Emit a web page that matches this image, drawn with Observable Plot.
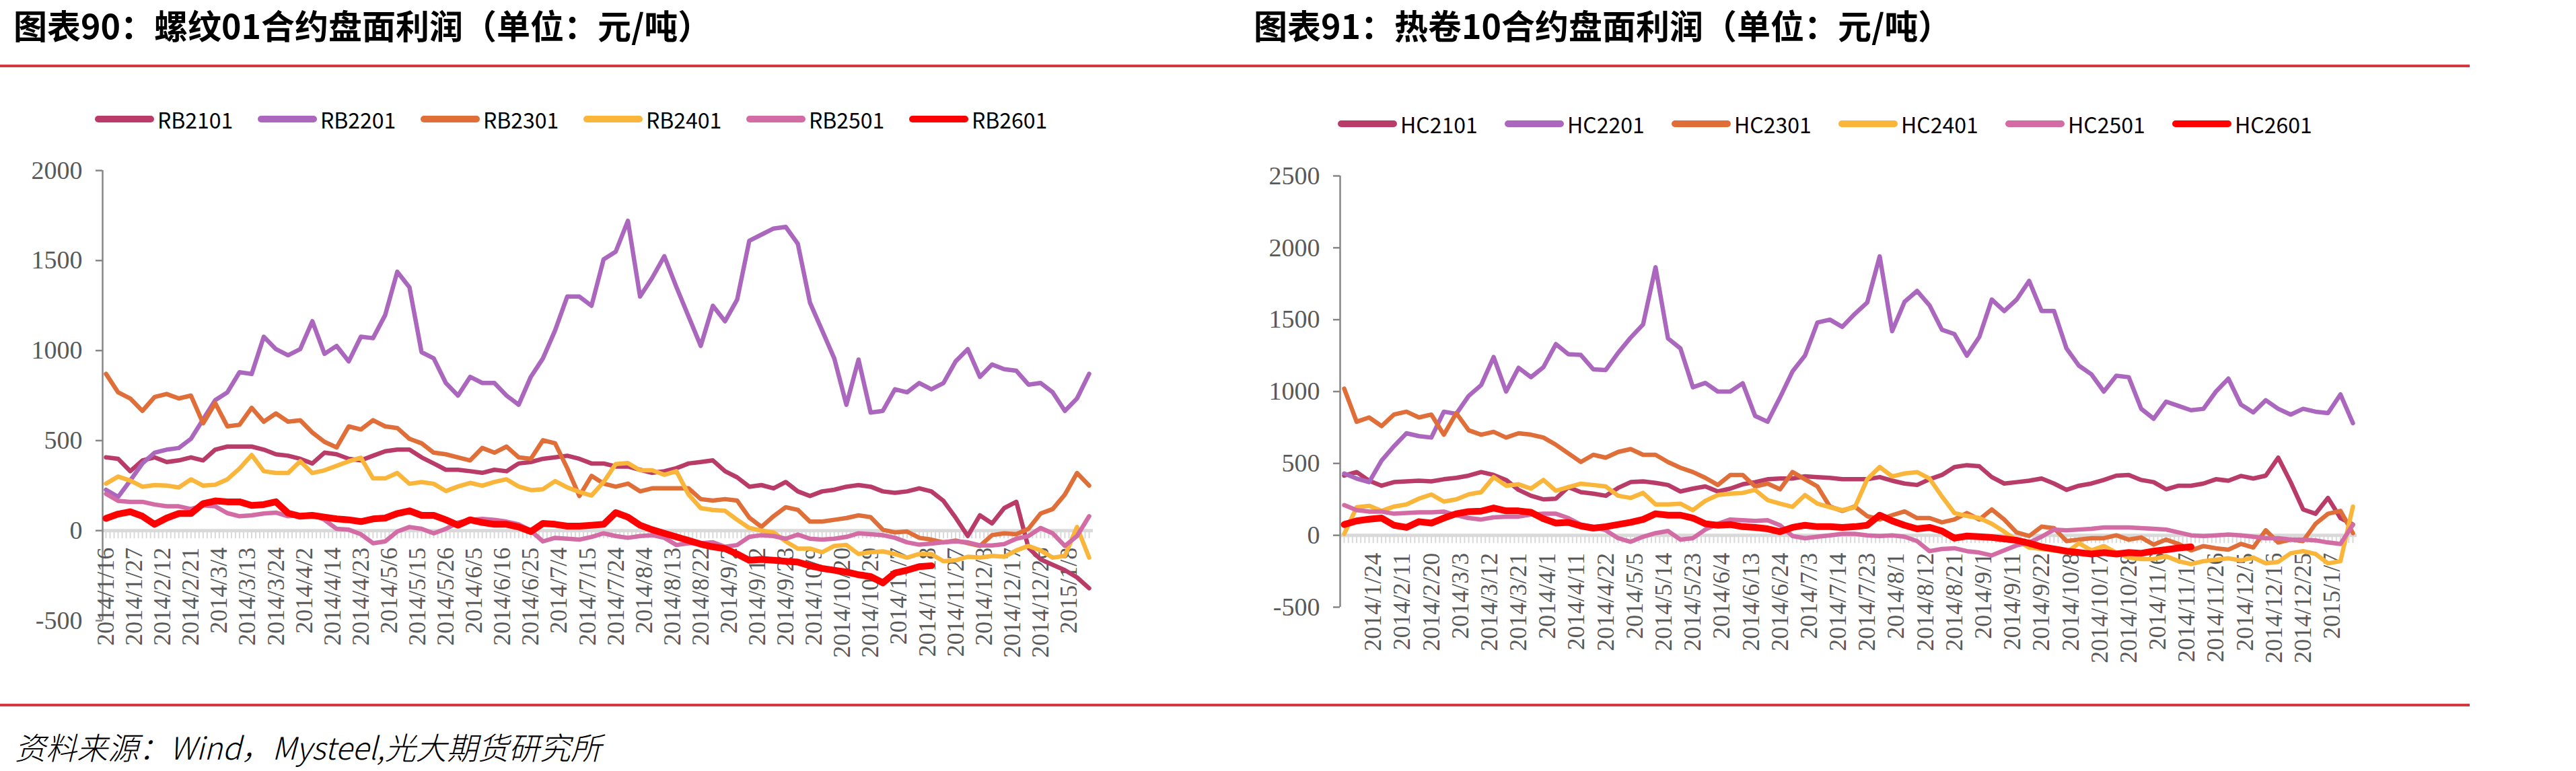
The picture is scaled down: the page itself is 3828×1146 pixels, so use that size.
<!DOCTYPE html>
<html>
<head>
<meta charset="utf-8">
<script src="https://cdn.jsdelivr.net/npm/d3@7"></script>
<script src="https://cdn.jsdelivr.net/npm/@observablehq/plot@0.6"></script>
<style>
  html, body { margin: 0; padding: 0; background: #fff; }
  body { width: 3828px; height: 1146px; position: relative; overflow: hidden; }
  .title { position: absolute; top: 7px; font-family: "Noto Sans CJK SC", sans-serif; font-weight: 700; font-size: 50px; line-height: 58px; color: #000; white-space: nowrap; z-index: 2; }
  .redrule { position: absolute; left: 0; width: 3670px; height: 4px; background: #d6363e; z-index: 2; }
  .legend-item { position: absolute; display: flex; align-items: center; font-family: "Noto Sans CJK SC", sans-serif; font-size: 32px; line-height: 40px; color: #000; white-space: nowrap; z-index: 2; }
  .sw { width: 88px; height: 10px; border-radius: 5px; margin-right: 5px; }
  .caption { position: absolute; left: 22px; top: 1080px; font-family: "Noto Sans CJK SC", sans-serif; font-style: italic; font-weight: 300; font-size: 46px; line-height: 58px; color: #000; white-space: nowrap; z-index: 2; }
  .chart { position: absolute; top: 0; z-index: 1; }
</style>
</head>
<body>
<div class="title" style="left:20px">图表90：螺纹01合约盘面利润（单位：元/吨）</div>
<div class="title" style="left:1863px">图表91：热卷10合约盘面利润（单位：元/吨）</div>
<div class="redrule" style="top:96px"></div>
<div class="redrule" style="top:1046px"></div>
<div class="caption">资料来源：Wind，Mysteel,光大期货研究所</div>
<div id="legendL"></div>
<div id="legendR"></div>
<div id="chartL" class="chart" style="left:0px"></div>
<div id="chartR" class="chart" style="left:1800px"></div>
<script>
// ---------- data ----------
const seriesRB = ["RB2101", "RB2201", "RB2301", "RB2401", "RB2501", "RB2601"];
const seriesHC = ["HC2101", "HC2201", "HC2301", "HC2401", "HC2501", "HC2601"];
const seriesColors = ["#b83c67", "#ab67be", "#e06e38", "#fab63b", "#d36ca4", "#ff0000"];

// one value every 3 trading days, starting from the first trading day shown
const rb2101 = [407,399,330,390,407,381,390,407,390,450,
  467,467,467,450,424,416,399,373,433,424,
  399,390,416,441,450,450,407,373,338,338,
  330,321,338,330,373,381,399,407,416,399,
  373,373,356,356,338,321,330,347,373,381,
  390,330,296,244,253,235,270,218,192,218,
  227,244,253,244,218,210,218,235,218,165,
  72,-30,85,40,125,160,-95,-160,-190,-220,
  -260,-320];
const rb2201 = [227,187,278,373,433,450,459,510,617,725,
  768,880,870,1077,1008,974,1008,1163,982,1026,
  940,1077,1069,1197,1438,1352,991,957,820,750,
  854,820,820,750,699,854,957,1112,1300,1300,
  1249,1507,1550,1721,1300,1404,1524,1352,1189,1026,
  1249,1163,1283,1610,1644,1678,1687,1593,1266,1112,
  957,699,950,656,665,785,768,820,785,820,
  940,1008,854,923,897,888,811,820,768,665,
  734,871];
const rb2301 = [871,768,734,665,742,759,734,750,596,708,
  579,588,682,605,651,605,613,545,493,462,
  579,562,613,579,570,510,485,433,424,407,
  390,459,433,467,407,399,502,485,347,192,
  304,261,244,261,218,235,235,235,235,175,
  167,175,167,72,21,80,130,115,50,50,
  60,70,85,75,5,-10,-5,-40,-50,-65,
  -55,-70,-85,-25,-15,-20,10,95,120,200,
  320,250];
const rb2401 = [261,300,278,244,253,250,240,285,250,255,
  285,345,420,330,320,320,385,320,335,360,
  385,405,290,290,320,260,270,260,220,245,
  265,250,270,285,245,225,230,275,240,215,
  195,270,370,375,335,335,310,330,200,125,
  115,110,60,15,0,-10,-60,-100,-100,-120,
  -85,-80,-130,-120,-115,-130,-150,-130,-130,-170,
  -165,-145,-150,-140,-145,-110,-85,-110,-150,-140,
  20,-150];
const rb2501 = [205,165,160,160,145,135,135,120,140,135,
  97,80,85,95,100,80,85,90,60,10,
  5,-20,-70,-60,-5,20,10,-15,10,45,
  60,65,60,50,35,0,-60,-40,-45,-50,
  -35,-15,-30,-40,-30,-25,-40,-80,-70,-70,
  -65,-90,-80,-35,-25,-30,-45,-22,-45,-50,
  -45,-35,-15,-20,-25,-40,-65,-78,-72,-65,
  -60,-65,-82,-82,-75,-45,-30,15,-15,-85,
  -30,80];
const rb2601 = [68,92,105,80,35,70,95,95,150,165,
  160,160,140,145,160,97,80,85,75,65,
  60,50,65,70,95,110,85,85,60,30,
  60,45,35,35,20,-5,40,35,25,25,
  30,35,100,75,30,5,-15,-35,-55,-75,
  -90,-100,-130,-165,-160,-165,-170,-175,-195,-210,
  -220,-230,-245,-255,-290,-235,-220,-200,-195];

const hc2101 = [415,440,380,345,370,375,380,375,390,400,
  415,440,420,385,316,275,250,255,335,300,
  290,275,330,370,375,365,350,305,325,340,
  305,325,355,370,390,395,395,410,405,400,
  390,390,390,405,380,360,350,390,420,475,
  488,480,405,360,370,380,395,360,316,345,
  360,385,415,420,385,370,320,345,345,360,
  390,380,413,395,415,540,370,180,150,260,
  120,75];
const hc2201 = [430,395,370,520,620,710,690,680,860,845,
  970,1045,1240,1000,1165,1100,1170,1330,1260,1255,
  1155,1150,1270,1375,1467,1865,1370,1300,1030,1060,
  1000,1000,1058,830,790,960,1140,1250,1480,1500,
  1450,1540,1620,1940,1420,1625,1700,1600,1430,1400,
  1250,1380,1640,1560,1640,1770,1560,1560,1300,1180,
  1120,1000,1110,1100,880,811,930,900,870,880,
  1000,1090,910,855,940,880,840,880,860,850,
  980,780];
const hc2301 = [1020,790,820,760,840,860,820,840,700,850,
  730,700,720,680,710,700,680,630,570,510,
  560,540,580,600,560,560,510,470,440,400,
  350,420,420,340,360,320,440,390,340,200,
  170,200,133,110,140,166,120,120,90,110,
  155,110,180,110,20,-5,60,50,-40,-30,
  -20,-20,0,-30,-15,-65,-30,-60,-105,-75,
  -90,-100,-60,-85,35,-50,-30,-40,80,150,
  170,15];
const hc2401 = [10,195,205,170,200,215,255,284,235,250,
  285,300,405,345,355,325,385,310,335,359,
  350,340,275,260,295,215,215,220,175,240,
  280,290,295,316,245,220,198,280,220,195,
  175,195,390,475,410,430,440,395,270,155,
  135,120,80,25,-35,-85,-95,-105,-120,-55,
  -105,-75,-120,-155,-165,-165,-145,-180,-200,-180,
  -170,-160,-175,-155,-195,-185,-125,-110,-130,-195,
  -180,200];
const hc2501 = [210,175,165,165,150,155,160,160,165,140,
  120,110,125,130,130,145,150,150,120,75,
  60,35,-20,-45,-10,15,30,-30,-20,40,
  80,110,105,100,105,70,-5,-20,-10,0,
  10,10,0,-5,0,-10,-40,-110,-95,-90,
  -110,-120,-140,-105,-70,-50,-10,40,35,40,
  45,55,55,55,50,45,40,20,0,-5,
  0,5,0,-10,-20,-20,-30,-30,-35,-50,
  -60,75];
const hc2601 = [75,100,112,120,70,55,95,85,120,150,
  165,168,190,170,170,160,115,85,90,65,
  50,60,75,90,110,150,140,140,120,80,
  70,75,60,55,45,25,55,70,60,60,
  55,60,70,140,100,70,45,55,30,-20,
  -5,-10,-15,-25,-35,-55,-80,-95,-110,-120,
  -130,-120,-130,-120,-125,-110,-100,-88,-80];

const labelsRB = ["2014/1/16","2014/1/27","2014/2/12","2014/2/21","2014/3/4","2014/3/13","2014/3/24","2014/4/2","2014/4/14","2014/4/23","2014/5/6","2014/5/15","2014/5/26","2014/6/5","2014/6/16","2014/6/25","2014/7/4","2014/7/15","2014/7/24","2014/8/4","2014/8/13","2014/8/22","2014/9/2","2014/9/12","2014/9/23","2014/10/9","2014/10/20","2014/10/29","2014/11/7","2014/11/18","2014/11/27","2014/12/8","2014/12/17","2014/12/26","2015/1/8"];
const labelsHC = ["2014/1/24","2014/2/11","2014/2/20","2014/3/3","2014/3/12","2014/3/21","2014/4/1","2014/4/11","2014/4/22","2014/5/5","2014/5/14","2014/5/23","2014/6/4","2014/6/13","2014/6/24","2014/7/3","2014/7/14","2014/7/23","2014/8/1","2014/8/12","2014/8/21","2014/9/1","2014/9/11","2014/9/22","2014/10/8","2014/10/17","2014/10/28","2014/11/6","2014/11/17","2014/11/26","2014/12/5","2014/12/16","2014/12/25","2015/1/7"];

const ticksRB = [-500, 0, 500, 1000, 1500, 2000];
const ticksHC = [-500, 0, 500, 1000, 1500, 2000, 2500];

// ---------- drawing ----------
const STEP = 3;        // trading days between samples
const LABEL_EVERY = 7; // trading days between category labels

function rowsOf(names, arrays) {
  const rows = [];
  names.forEach((name, s) => arrays[s].forEach((v, k) => rows.push({day: k * STEP, value: v, name})));
  return rows;
}

function drawChart(cfg) {
  const rows = rowsOf(cfg.names, cfg.values);
  const last = cfg.names[cfg.names.length - 1];
  const thin = rows.filter(r => r.name !== last);
  const thick = rows.filter(r => r.name === last);
  const days = d3.range(0, cfg.lastDay + 1);
  return Plot.plot({
    width: cfg.width,
    height: 1000,
    marginLeft: cfg.ml, marginRight: cfg.mr, marginTop: cfg.mt, marginBottom: cfg.mb,
    style: {background: "transparent", overflow: "visible", maxWidth: "none"},
    x: {domain: [0, cfg.lastDay], axis: null},
    y: {domain: [cfg.ticks[0], cfg.ticks[cfg.ticks.length - 1]], axis: null},
    color: {domain: cfg.names, range: seriesColors},
    marks: [
      Plot.ruleY([0], {stroke: "#d9d9d9", strokeWidth: 5, insetLeft: -6, insetRight: -6}),
      Plot.ruleX(days, {x: d => d, y1: () => 0, y2: () => 0, insetBottom: -12, stroke: "#d9d9d9", strokeWidth: 2}),
      Plot.axisY({ticks: cfg.ticks, tickFormat: d => String(d), tickSize: 10, tickPadding: 20, dx: cfg.axisDx,
        label: null, fontSize: 38, fontFamily: "Liberation Serif, serif", color: "#595959", stroke: "#868686", strokeWidth: 2.5}),
      Plot.ruleX([0], {dx: cfg.axisDx, stroke: "#868686", strokeWidth: 2.5}),
      Plot.text(cfg.labels, {x: (d, i) => cfg.labelStart + i * LABEL_EVERY, y: () => 0, text: d => d,
        rotate: -90, textAnchor: "end", dy: cfg.labelDy, fontSize: 36,
        fontFamily: "Liberation Serif, serif", fill: "#595959"}),
      Plot.line(thin, {x: "day", y: "value", z: "name", stroke: "name", strokeWidth: 6.5,
        strokeLinejoin: "round", strokeLinecap: "round"}),
      Plot.line(thick, {x: "day", y: "value", z: "name", stroke: "name", strokeWidth: 10,
        strokeLinejoin: "round", strokeLinecap: "round"})
    ]
  });
}

function drawLegend(el, names, x0, spacing, yc) {
  names.forEach((name, i) => {
    const item = document.createElement("div");
    item.className = "legend-item";
    item.style.left = (x0 + i * spacing) + "px";
    item.style.top = (yc - 20) + "px";
    const sw = document.createElement("div");
    sw.className = "sw";
    sw.style.background = seriesColors[i];
    const t = document.createElement("span");
    t.textContent = name;
    item.appendChild(sw);
    item.appendChild(t);
    el.appendChild(item);
  });
}

document.getElementById("chartL").appendChild(drawChart({
  names: seriesRB, values: [rb2101, rb2201, rb2301, rb2401, rb2501, rb2601],
  labels: labelsRB, labelStart: 0, ticks: ticksRB, lastDay: 243,
  width: 1700, ml: 157, mr: 82, mt: 253, mb: 78, axisDx: -5, labelDy: 25
}));
document.getElementById("chartR").appendChild(drawChart({
  names: seriesHC, values: [hc2101, hc2201, hc2301, hc2401, hc2501, hc2601],
  labels: labelsHC, labelStart: 7, ticks: ticksHC, lastDay: 243,
  width: 1800, ml: 197, mr: 104, mt: 261, mb: 98, axisDx: -6, labelDy: 26
}));
drawLegend(document.getElementById("legendL"), seriesRB, 141, 242, 177);
drawLegend(document.getElementById("legendR"), seriesHC, 1988, 248, 184);
</script>
</body>
</html>
